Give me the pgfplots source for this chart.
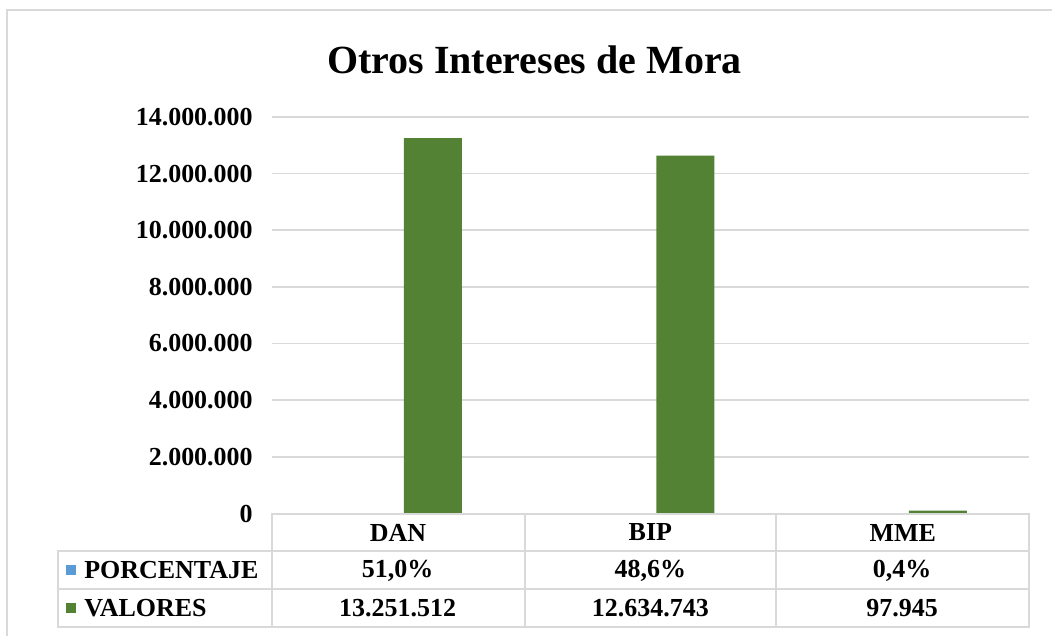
\documentclass[border=0pt]{standalone}
\usepackage{fontspec}
\setmainfont{Liberation Serif}
\usepackage{pgfplots}
\pgfplotsset{compat=1.18}
\definecolor{verde}{RGB}{84,130,53}
\definecolor{azul}{RGB}{91,155,213}
\definecolor{borde}{RGB}{217,217,217}
\begin{document}
\begin{tikzpicture}
\begin{scope}[x=0.5pt,y=-0.5pt]
\path (0,0) rectangle (1053,637);
\draw[borde, line width=1pt] (7,637) -- (7,10) -- (1053,10);
\node[font=\bfseries\fontsize{20}{24}\selectfont] at (535,60) {Otros Intereses de Mora};
\end{scope}
\begin{axis}[
  at={(136pt,-257pt)}, anchor=south west,
  scale only axis, width=379pt, height=198.5pt,
  xmin=-0.5, xmax=2.5, ymin=0, ymax=14000000,
  ytick={0,2000000,4000000,6000000,8000000,10000000,12000000,14000000},
  scaled y ticks=false,
  ymajorgrids, grid style={borde, line width=0.9pt},
  axis line style={draw=none}, major tick length=0pt,
  xtick={0,1,2}, xticklabels={DAN,BIP,MME},
  xticklabel style={anchor=center, yshift=-9.5pt},
  yticklabel style={xshift=-6pt, /pgf/number format/fixed, /pgf/number format/1000 sep={.}},
  /pgf/number format/assume math mode=true,
  tick label style={font=\bfseries\fontsize{13}{15}\selectfont},
  ybar, bar width=29pt,
]
\addplot[fill=azul, draw=none, bar shift=-17.5pt] coordinates {(0,0.510) (1,0.486) (2,0.004)};
\addplot[fill=verde, draw=none, bar shift=17.5pt] coordinates {(0,13251512) (1,12634743) (2,97945)};
\end{axis}
\begin{scope}[x=0.5pt,y=-0.5pt]
\draw[borde, line width=1pt] (272,514) rectangle (1030,628);
\draw[borde, line width=1pt] (58,552) rectangle (1030,628);
\draw[borde, line width=1pt] (58,590) -- (1030,590);
\draw[borde, line width=1pt] (525,514) -- (525,628);
\draw[borde, line width=1pt] (777,514) -- (777,628);
\fill[azul] (66,566) rectangle (76,576);
\fill[verde] (66,604) rectangle (76,614);
\begin{scope}[every node/.style={font=\bfseries\fontsize{13}{15}\selectfont}]
\node[anchor=west, inner sep=0pt] at (84,571) {PORCENTAJE};
\node[anchor=west, inner sep=0pt] at (84,609) {VALORES};
\node at (398,571) {51,0\%};
\node at (651,571) {48,6\%};
\node at (903,571) {0,4\%};
\node at (398,609) {13.251.512};
\node at (651,609) {12.634.743};
\node at (903,609) {97.945};
\end{scope}
\end{scope}
\end{tikzpicture}
\end{document}
